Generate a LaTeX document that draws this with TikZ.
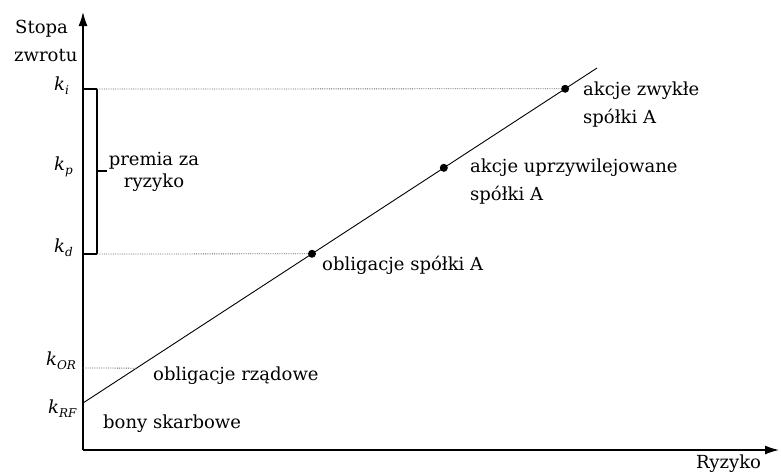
\documentclass[tikz,border=0pt]{standalone}
\usepackage{fontspec}
\setmainfont{DejaVu Serif}
\usetikzlibrary{arrows.meta,calc}
\newcommand{\kk}[1]{{\itshape k}\raisebox{-4pt}{\fontsize{12}{12}\selectfont\itshape #1}}
\begin{document}
\begin{tikzpicture}[x=1pt,y=-1pt,
  font=\fontsize{18}{20}\selectfont,
  lbl/.style={inner sep=0pt, anchor=base west, align=left},
  dot/.style={circle, fill=black, inner sep=0pt, minimum size=8pt},
  guide/.style={densely dotted, black!60, line width=0.8pt},
  axis/.style={line width=1.4pt, -{Latex[length=14pt,width=9pt]}},
  brk/.style={line width=1.1pt},
  brkend/.style={line width=2pt}]
\useasboundingbox (0,0) rectangle (781,475);
% axes
\coordinate (O) at (83,450);
\coordinate (ytop) at (83,12);
\coordinate (xend) at (779,450);
\draw[axis] (O) -- (ytop);
\draw[axis] (O) -- (xend);
% market line
\coordinate (rf) at (83,403);
\coordinate (lend) at (597,68);
\draw[line width=0.9pt] (rf) -- (lend);
\node[dot] (pd) at ($(rf)!0.4455!(lend)$) {};
\node[dot] (pp) at ($(rf)!0.702!(lend)$) {};
\node[dot] (pi) at ($(rf)!0.938!(lend)$) {};
\coordinate (por) at ($(rf)!0.104!(lend)$);
% bracket
\coordinate (ki) at (83,89);
\coordinate (kd) at (83,254);
\coordinate (bi) at (97,89);
\coordinate (bd) at (97,254);
\coordinate (bm) at (97,171);
\coordinate (bt) at (107,171);
\coordinate (kor) at (83,368);
\draw[brk] (bi) -- (bd);
\draw[brkend] (ki) -- (bi);
\draw[brkend] (kd) -- (bd);
\draw[brk] (bm) -- (bt);
% guides
\draw[guide] (bi) -- (pi);
\draw[guide] (bd) -- (pd);
\draw[guide] (kor) -- (por);
% axis labels
\node[lbl] (ylab) at (15,33) {Stopa};
\node[lbl] (ylab2) at (14,61) {zwrotu};
\node[lbl] (xlab) at (696,468) {Ryzyko};
% k labels
\node[lbl] (lki) at (54,90) {\kk{i}};
\node[lbl] (lkp) at (54,170) {\kk{p}};
\node[lbl] (lkd) at (54,252) {\kk{d}};
\node[lbl] (lkor) at (46,365) {\kk{OR}};
\node[lbl] (lkrf) at (48,413) {\kk{RF}};
% text labels
\node[inner sep=0pt, align=center, font=\fontsize{18}{22}\selectfont, anchor=base] (prem) at (154,187) {premia za\\ryzyko};
\node[lbl] (obr) at (153,380) {obligacje rządowe};
\node[lbl] (bony) at (103,428) {bony skarbowe};
\node[lbl] (obs) at (322,270) {obligacje spółki A};
\node[lbl, font=\fontsize{18}{28}\selectfont] (aup) at (470,200) {akcje uprzywilejowane\\spółki A};
\node[lbl, font=\fontsize{18}{28}\selectfont] (azw) at (583,123) {akcje zwykłe\\spółki A};
\end{tikzpicture}
\end{document}
